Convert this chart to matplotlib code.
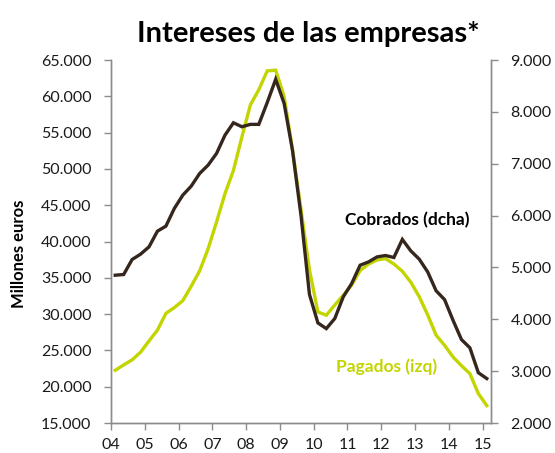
import numpy as np
import matplotlib
matplotlib.use('Agg')
import matplotlib.pyplot as plt
from matplotlib.ticker import FuncFormatter

plt.rcParams['font.family'] = ['Lato', 'DejaVu Sans']

# --- Data (quarterly, 2004Q1 - 2015Q1)
quarters = 2004.125 + 0.25 * np.arange(45)

# Intereses cobrados, millones de euros (eje dcho)
cobrados = [4850, 4864, 5153, 5256, 5397, 5700, 5796, 6138, 6394, 6568,
            6813, 6973, 7199, 7552, 7790, 7713, 7759, 7759, 8180, 8628,
            8164, 7250, 6000, 4480, 3930, 3821, 4015, 4432, 4690, 5043,
            5107, 5203, 5230, 5192, 5540, 5320, 5160, 4914, 4550, 4380,
            3982, 3610, 3450, 2970, 2857]

# Intereses pagados, millones de euros (eje izdo)
pagados = [22263, 23000, 23700, 24750, 26300, 27800, 30100, 30900, 31850, 33850,
           35950, 39000, 42700, 46600, 49800, 54400, 58800, 60900, 63500, 63600,
           60000, 52600, 44400, 36100, 30300, 29850, 31250, 32600, 34000, 36000,
           36900, 37450, 37650, 36900, 35900, 34400, 32400, 29900, 27100, 25700,
           24100, 22900, 21800, 19050, 17400]

years = list(range(2004, 2016))
year_labels = ['%02d' % (y % 100) for y in years]

green = '#C3D500'
dark = '#35271D'
axis_col = '#8C8C8C'


def miles(v, pos):
    return '{:,.0f}'.format(v).replace(',', '.')


fig = plt.figure(figsize=(5.55, 4.53), dpi=100)
ax = fig.add_axes([0.2, 0.0662, 0.6847, 0.8013])
ax2 = ax.twinx()

ax.plot(quarters, pagados, color=green, lw=2.4, solid_joinstyle='miter')
ax2.plot(quarters, cobrados, color=dark, lw=2.4, solid_joinstyle='miter')

ax.set_xlim(2004, 2015.25)
ax.set_ylim(15000, 65000)
ax.set_yticks(np.arange(15000, 65001, 5000))
ax2.set_ylim(2000, 9000)
ax2.set_yticks(np.arange(2000, 9001, 1000))
ax.set_xticks(years)
ax.set_xticklabels(year_labels)
ax.yaxis.set_major_formatter(FuncFormatter(miles))
ax2.yaxis.set_major_formatter(FuncFormatter(miles))

for a in (ax, ax2):
    a.spines['top'].set_visible(False)
    for s in ('left', 'right', 'bottom'):
        a.spines[s].set_color(axis_col)
        a.spines[s].set_linewidth(1.0)
    a.tick_params(colors=axis_col, labelcolor='#1a1a1a', labelsize=11.5,
                  length=5, width=1.0, direction='out')
ax.tick_params(axis='y', pad=9)
ax2.tick_params(axis='y', pad=9)
ax.tick_params(axis='x', pad=6)

# y label placed like the original (a bit below the axis centre)
fig.text(0.034, 0.439, 'Millones euros', rotation=90, ha='center', va='center',
         fontsize=12, fontweight='bold', color='black')

fig.text(0.555, 0.925, 'Intereses de las empresas*', ha='center', va='center',
         fontsize=21, fontweight='bold', color='black')
fig.text(0.733, 0.514, 'Cobrados (dcha)', ha='center', va='center',
         fontsize=12.5, fontweight='bold', color='black')
fig.text(0.697, 0.19, 'Pagados (izq)', ha='center', va='center',
         fontsize=12.5, fontweight='bold', color=green)

fig.savefig('out.png', dpi=100)
